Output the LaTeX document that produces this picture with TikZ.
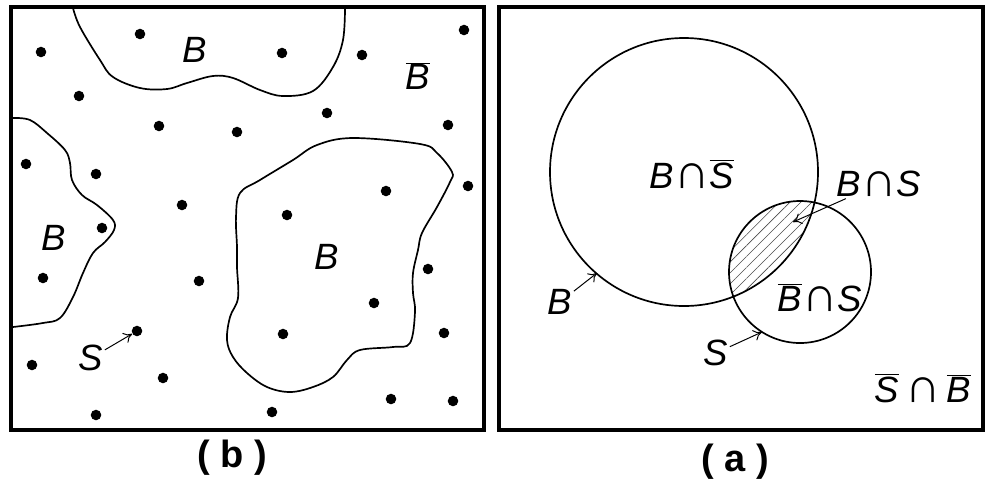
\documentclass[tikz,border=0pt]{standalone}
\usepackage{fontspec}
\newfontfamily\labfont{Liberation Sans}
\usetikzlibrary{patterns.meta,arrows.meta}
\newcommand{\ovl}[1]{$\overline{\mbox{#1}}$}
\newcommand{\cp}{\scalebox{1.35}{∩}}
\tikzset{
  lbl/.style={font=\labfont\itshape\fontsize{26}{30}\selectfont, inner sep=1pt},
  panelcap/.style={font=\labfont\bfseries\fontsize{27}{30}\selectfont},
  dot/.style={circle, fill, inner sep=0pt, minimum size=7.5pt},
  frame/.style={line width=2.6pt},
  outline/.style={line width=1.2pt},
  pointer/.style={-{To[length=6pt, width=8pt]}, line width=0.7pt}
}
\begin{document}
\begin{tikzpicture}[x=0.025cm, y=-0.025cm]
  \useasboundingbox (0,0) rectangle (986,489);
  % Panel (b): sample points over regions B
  \draw[frame] (11,7) rectangle (484,430);
  \draw[outline] plot[smooth, tension=0.6] coordinates {
    (73,8) (80,27) (100,60) (113,77) (140,88) (167,89) (187,83) (213,76)
    (233,78) (260,90) (283,96) (313,91) (333,67) (343,40) (345,8)
  };
  \draw[outline] plot[smooth, tension=0.6] coordinates {
    (13,118) (30,120) (47,133) (65,150) (70,163) (72,180) (82,195) (97,205)
    (113,220) (114,230) (105,242) (93,253) (83,273) (73,297) (60,318) (43,323) (13,327)
  };
  \draw[outline] plot[smooth cycle, tension=0.6] coordinates {
    (240,193) (260,180) (293,160) (317,145) (353,138) (420,144) (437,153)
    (452,172) (450,182) (437,207) (422,233) (418,250) (413,273) (413,293)
    (415,312) (410,343) (393,347) (360,350) (347,360) (333,377) (313,387)
    (290,392) (267,387) (247,373) (233,357) (227,340) (230,317) (238,298)
    (237,267) (237,247) (236,217)
  };
  \foreach \px/\py [count=\i] in {41/52, 140/34, 282/53, 362/55, 464/30,
      79/96, 159/126, 237/132, 327/113, 448/125, 26/164, 96/174, 182/205,
      386/191, 468/186, 287/215, 102/228, 43/278, 199/281, 428/269, 374/303,
      283/334, 444/333, 32/365, 163/378, 96/415, 272/412, 391/399, 453/401}
    \node[dot] (d\i) at (\px,\py) {};
  \node[dot] (dS) at (137,331) {};
  \node[lbl] (lB1) at (195,50) {B};
  \node[lbl] (lNB) at (418,76) {\ovl{B}};
  \node[lbl] (lB2) at (54,238) {B};
  \node[lbl] (lB3) at (327,257) {B};
  \node[lbl] (lS) at (91,358) {S};
  \draw[pointer] (lS) -- (dS);
  \node[panelcap] (capb) at (232,458) {( b )};

  % Panel (a): circles B and S
  \draw[frame] (499,7) rectangle (983,430);
  \begin{scope}
    \clip (684,172) circle (134);
    \fill[pattern={Lines[angle=45, distance=5.5pt, line width=0.4pt]},
          pattern color=black!70] (800,272) circle (71);
  \end{scope}
  \draw[outline] (684,172) circle (134);
  \draw[outline] (800,272) circle (71);
  \coordinate (tipBS) at (793,222);
  \coordinate (tipB) at (597,273);
  \coordinate (tipS) at (762,332);
  \node[lbl] (lBnS) at (692,174) {B\cp\ovl{S}};
  \node[lbl] (lBS) at (879,184) {B\cp S};
  \node[lbl] (lNBS) at (820,298) {\ovl{B}\cp S};
  \node[lbl] (lBa) at (560,302) {B};
  \node[lbl] (lSa) at (716,353) {S};
  \node[lbl] (lNSNB) at (923,388) {\ovl{S}\,\cp\,\ovl{B}};
  \draw[pointer] (lBS) -- (tipBS);
  \draw[pointer] (lBa) -- (tipB);
  \draw[pointer] (lSa) -- (tipS);
  \node[panelcap] (capa) at (735,462) {( a )};
\end{tikzpicture}
\end{document}
